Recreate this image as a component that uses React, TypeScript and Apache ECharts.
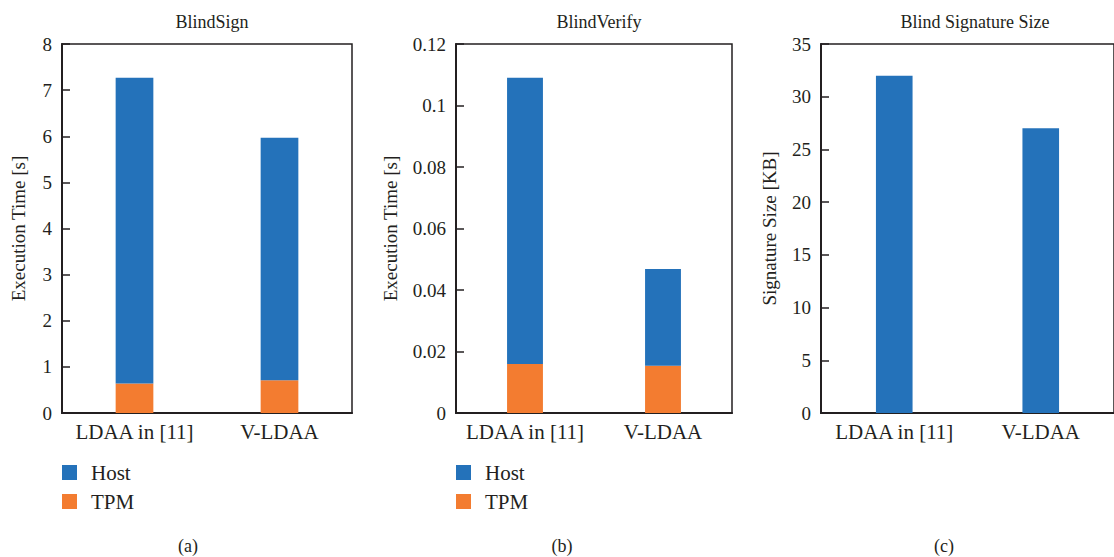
import React, { useEffect, useRef } from "react";
import * as echarts from "echarts";

const categories = ["LDAA in [11]", "V-LDAA"];
const signHost = [6.63, 5.26];
const signTpm = [0.64, 0.71];
const verifyHost = [0.0931, 0.0314];
const verifyTpm = [0.0159, 0.0154];
const sizeValues = [32, 27];
const panelTitles = ["BlindSign", "BlindVerify", "Blind Signature Size"];
const captions = ["(a)", "(b)", "(c)"];
const yNames = ["Execution Time [s]", "Execution Time [s]", "Signature Size [KB]"];

const BLUE = "#2472BA";
const ORANGE = "#F37C30";
const FONT = "Liberation Serif";
const TXT = "#231F20";

export default function App() {
  const ref = useRef<HTMLDivElement>(null);
  useEffect(() => {
    if (!ref.current) return;
    const chart = echarts.init(ref.current, null, { renderer: "svg" });
    const grids = [
      { left: 62, top: 44, width: 290, height: 369 },
      { left: 456, top: 44, width: 276, height: 369 },
      { left: 821, top: 44, width: 298, height: 369 },
    ];
    const yCfg = [
      { max: 8, interval: 1, gap: 34, fmt: (v: number) => String(v) },
      { max: 0.12, interval: 0.02, gap: 56, fmt: (v: number) => String(+v.toFixed(2)) },
      { max: 35, interval: 5, gap: 42, fmt: (v: number) => String(v) },
    ];
    const textStyle = { fontFamily: FONT, fontSize: 19, color: TXT };
    chart.setOption({
      animation: false,
      textStyle: { fontFamily: FONT },
      title: [
        ...panelTitles.map((t, i) => ({
          text: t,
          left: grids[i].left + (i === 2 ? 149 : grids[i].width / 2),
          top: 8,
          textAlign: "center",
          textStyle: { ...textStyle, fontWeight: "normal", fontSize: 18 },
        })),
        ...captions.map((t, i) => ({
          text: t,
          left: [183, 557, 939][i],
          top: 532,
          textAlign: "center",
          textStyle: { ...textStyle, fontWeight: "normal", fontSize: 18 },
        })),
      ],
      legend: [0, 1].map((i) => ({
        data: ["Host", "TPM"],
        orient: "vertical",
        left: grids[i].left,
        top: 462,
        padding: 0,
        itemWidth: 15,
        itemHeight: 15,
        itemGap: 8,
        icon: "rect",
        selectedMode: false,
        textStyle: { ...textStyle, fontSize: 21, padding: [0, 0, 0, 9] },
      })),
      grid: grids.map((g) => ({
        ...g,
        show: true,
        borderColor: "#231F20",
        borderWidth: 1.5,
        backgroundColor: "transparent",
      })),
      xAxis: grids.map((_, i) => ({
        type: "category",
        gridIndex: i,
        data: categories,
        axisLine: { lineStyle: { color: "#231F20", width: 2 } },
        axisTick: { inside: true, length: 8, lineStyle: { color: "#231F20", width: 1.5 } },
        axisLabel: { ...textStyle, fontSize: 21, margin: 8, interval: 0, hideOverlap: false },
      })),
      yAxis: grids.map((_, i) => ({
        type: "value",
        gridIndex: i,
        min: 0,
        max: yCfg[i].max,
        interval: yCfg[i].interval,
        name: yNames[i],
        nameLocation: "middle",
        nameGap: yCfg[i].gap,
        nameRotate: 90,
        nameTextStyle: { ...textStyle },
        axisLine: { show: true, lineStyle: { color: "#231F20", width: 2 } },
        axisTick: { show: true, inside: true, length: 8, lineStyle: { color: "#231F20", width: 1.5 } },
        axisLabel: { ...textStyle, margin: 10, formatter: yCfg[i].fmt },
        splitLine: { show: false },
      })),
      series: [
        { name: "TPM", type: "bar", stack: "a", xAxisIndex: 0, yAxisIndex: 0, data: signTpm, barWidth: "26%", itemStyle: { color: ORANGE } },
        { name: "Host", type: "bar", stack: "a", xAxisIndex: 0, yAxisIndex: 0, data: signHost, barWidth: "26%", itemStyle: { color: BLUE } },
        { name: "TPM", type: "bar", stack: "b", xAxisIndex: 1, yAxisIndex: 1, data: verifyTpm, barWidth: "26%", itemStyle: { color: ORANGE } },
        { name: "Host", type: "bar", stack: "b", xAxisIndex: 1, yAxisIndex: 1, data: verifyHost, barWidth: "26%", itemStyle: { color: BLUE } },
        { name: "Size", type: "bar", xAxisIndex: 2, yAxisIndex: 2, data: sizeValues, barWidth: "25%", itemStyle: { color: BLUE } },
      ],
    });
    return () => chart.dispose();
  }, []);
  return (
    <div
      ref={ref}
      style={{ position: "absolute", left: 0, top: 0, width: 1114, height: 557, overflow: "hidden", background: "#fff" }}
    />
  );
}
